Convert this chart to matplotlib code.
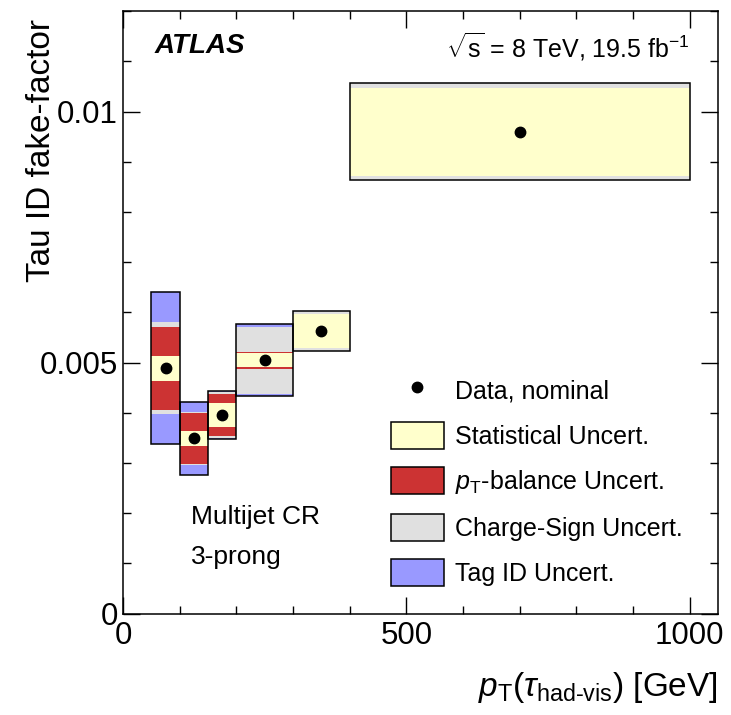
import matplotlib
matplotlib.use("Agg")
import matplotlib.pyplot as plt
import numpy as np
from matplotlib.lines import Line2D
from matplotlib.patches import Patch, Rectangle
from matplotlib.ticker import MultipleLocator, FuncFormatter

plt.rcParams["font.family"] = ["Liberation Sans", "DejaVu Sans"]
plt.rcParams["mathtext.fontset"] = "custom"
plt.rcParams["mathtext.rm"] = "Liberation Sans"
plt.rcParams["mathtext.it"] = "Liberation Sans:italic"
plt.rcParams["mathtext.bf"] = "Liberation Sans:bold"

# tau pT bins [GeV] and measured fake-factors (multijet CR, 3-prong)
bin_edges = [50, 100, 150, 200, 300, 400, 1000]
fake_factor = [0.00489, 0.00349, 0.00396, 0.00505, 0.00563, 0.00960]

# uncertainty components, stacked on top of each other
stat_unc = [0.000245, 0.000155, 0.000239, 0.000135, 0.000335, 0.000876]
ptbal_unc = [0.000584, 0.000350, 0.000186, 0.000031, 0.0, 0.0]
charge_unc = [0.000085, 0.000027, 0.000027, 0.000504, 0.000063, 0.000094]
tagid_unc = [0.000600, 0.000200, 0.000032, 0.000047, 0.0, 0.0]

unc_labels = ["Statistical Uncert.", r"$p_{\mathrm{T}}$-balance Uncert.",
              "Charge-Sign Uncert.", "Tag ID Uncert."]
unc_colors = ["#ffffcc", "#cc3333", "#e0e0e0", "#9999ff"]

edges = np.array(bin_edges, dtype=float)
centers = 0.5 * (edges[:-1] + edges[1:])
widths = np.diff(edges)
components = np.array([stat_unc, ptbal_unc, charge_unc, tagid_unc])
cumulative = np.cumsum(components, axis=0)

fig = plt.figure(figsize=(7.31, 7.15), dpi=100)
ax = fig.add_axes([0.1683, 0.1417, 0.814, 0.8425])

# draw the widest band first so the inner ones sit on top
for i in reversed(range(len(components))):
    for j in range(len(centers)):
        half = cumulative[i, j]
        ax.add_patch(Rectangle((edges[j], fake_factor[j] - half), widths[j], 2 * half,
                               facecolor=unc_colors[i], edgecolor="none", zorder=2))

for j in range(len(centers)):
    half = cumulative[-1, j]
    ax.add_patch(Rectangle((edges[j], fake_factor[j] - half), widths[j], 2 * half,
                           facecolor="none", edgecolor="black", linewidth=1.1, zorder=3))

ax.plot(centers, fake_factor, "o", color="black", markersize=7.5, zorder=4)

ax.set_xlim(0, 1050)
ax.set_ylim(0, 0.012)
ax.xaxis.set_major_locator(MultipleLocator(500))
ax.xaxis.set_minor_locator(MultipleLocator(100))
ax.yaxis.set_major_locator(MultipleLocator(0.005))
ax.yaxis.set_minor_locator(MultipleLocator(0.001))
ax.yaxis.set_major_formatter(FuncFormatter(lambda v, pos: f"{v:g}"))
ax.xaxis.set_major_formatter(FuncFormatter(lambda v, pos: f"{v:g}"))

ax.tick_params(which="both", direction="in", top=True, right=True, width=1.0,
               labelsize=22.5)
ax.tick_params(which="major", length=12)
ax.tick_params(which="minor", length=6)
ax.tick_params(axis="x", pad=5.5)
ax.tick_params(axis="y", pad=3.6)
for spine in ax.spines.values():
    spine.set_linewidth(1.1)

ax.set_xlabel(r"$p_{\mathrm{T}}(\tau_{\mathrm{had}\text{-}\mathrm{vis}})$ [GeV]",
              fontsize=24, ha="right", va="top")
ax.xaxis.set_label_coords(1.0, -0.093)
fig.text(42 / 731, 1 - 19 / 715, "Tau ID fake-factor", rotation=90,
         fontsize=24, ha="center", va="top")

ax.text(56, 0.0113, "ATLAS", fontsize=20, fontweight="bold", fontstyle="italic",
        ha="left", va="center")
ax.text(1000, 0.0113, r"$\sqrt{\mathrm{s}}$ = 8 TeV, 19.5 fb$^{-1}$", fontsize=18,
        ha="right", va="center")
ax.text(120, 0.00193, "Multijet CR", fontsize=19, ha="left", va="center")
ax.text(120, 0.00113, "3-prong", fontsize=19, ha="left", va="center")

handles = [Line2D([], [], marker="o", linestyle="none", color="black", markersize=7.5)]
handles += [Patch(facecolor=c, edgecolor="black", linewidth=1.1) for c in unc_colors]
labels = ["Data, nominal"] + unc_labels
ax.legend(handles, labels, loc="upper left", bbox_to_anchor=(0.45, 0.394),
          frameon=False, fontsize=18, handlelength=2.12, handleheight=1.3,
          handletextpad=0.44, labelspacing=0.72, borderpad=0, borderaxespad=0)

fig.savefig("out.png", dpi=100)
